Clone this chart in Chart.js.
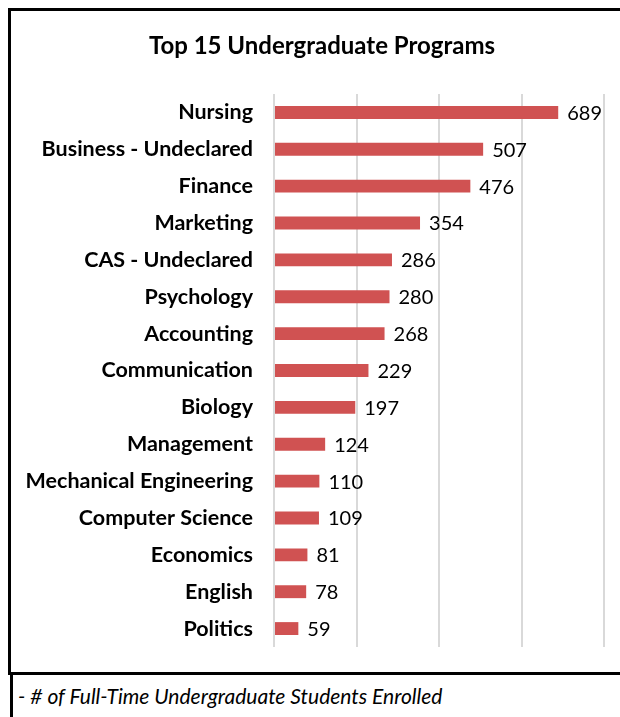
<!DOCTYPE html>
<html>
<head>
<meta charset="utf-8">
<script src="https://cdn.jsdelivr.net/npm/chart.js@4"></script>
<style>
    body { margin: 0; background: #fff; width: 620px; height: 717px; overflow: hidden; position: relative; }
    #box {
        position: absolute; left: 8px; top: 8px; width: 620px; height: 661px;
        border-left: 3px solid #000; border-top: 3px solid #000; border-bottom: 3px solid #000;
    }
    #chart-wrap { position: absolute; left: 0; top: 0; width: 609px; height: 661px; }
    #title {
        position: absolute; left: 0; top: 20px; width: 622px; text-align: center;
        font-family: Lato, sans-serif; font-weight: bold; font-size: 24px; line-height: 28px; color: #000;
    }
    #note {
        position: absolute; left: 10px; top: 675px; height: 42px; width: 610px;
        border-left: 3px solid #000;
        font-family: Lato, sans-serif; font-style: italic; font-size: 21px;
        line-height: 42px; padding-left: 5px; color: #000;
    }
</style>
</head>
<body>
<div id="box">
    <div id="chart-wrap"><canvas id="programs"></canvas></div>
    <div id="title">Top 15 Undergraduate Programs</div>
</div>
<div id="note">- # of Full-Time Undergraduate Students Enrolled</div>
<script>
const programs = [
    "Nursing", "Business - Undeclared", "Finance", "Marketing", "CAS - Undeclared",
    "Psychology", "Accounting", "Communication", "Biology", "Management",
    "Mechanical Engineering", "Computer Science", "Economics", "English", "Politics",
];
const enrolled = [689, 507, 476, 354, 286, 280, 268, 229, 197, 124, 110, 109, 81, 78, 59];
const xTicks = [0, 200, 400, 600, 800];

// draw the count just past the end of each bar
const barValueLabels = {
    id: "barValueLabels",
    afterDatasetsDraw(chart) {
        const ctx = chart.ctx;
        const meta = chart.getDatasetMeta(0);
        ctx.save();
        ctx.font = "20px Lato";
        ctx.fillStyle = "#000";
        ctx.textAlign = "left";
        ctx.textBaseline = "middle";
        meta.data.forEach((bar, i) => {
            ctx.fillText(String(enrolled[i]), bar.x + 9, bar.y + 1);
        });
        ctx.restore();
    },
};

new Chart(document.getElementById("programs"), {
    type: "bar",
    data: {
        labels: programs,
        datasets: [{
            data: enrolled,
            backgroundColor: "#D05252",
            borderWidth: 0,
            categoryPercentage: 1,
            barPercentage: 0.35,
        }],
    },
    plugins: [barValueLabels],
    options: {
        indexAxis: "y",
        responsive: true,
        maintainAspectRatio: false,
        animation: false,
        layout: { padding: { left: 0, right: 16, top: 83, bottom: 25 } },
        plugins: {
            legend: { display: false },
            tooltip: { enabled: false },
            title: { display: false },
        },
        scales: {
            x: {
                min: xTicks[0],
                max: xTicks[xTicks.length - 1],
                afterBuildTicks: (scale) => {
                    scale.ticks = xTicks.map((v) => ({ value: v }));
                },
                ticks: { display: false },
                grid: { color: "#D9D9D9", lineWidth: 2, drawTicks: false },
                border: { display: false },
                afterFit: (scale) => {
                    scale.height = 0;
                },
            },
            y: {
                grid: { display: false, drawTicks: false },
                border: { display: false },
                ticks: {
                    font: { family: "Lato", size: 21.5, weight: "bold" },
                    color: "#000",
                    padding: 21,
                },
                afterFit: (scale) => {
                    scale.width = 263;
                    scale.paddingTop = 0;
                    scale.paddingBottom = 0;
                },
            },
        },
    },
});
</script>
</body>
</html>
